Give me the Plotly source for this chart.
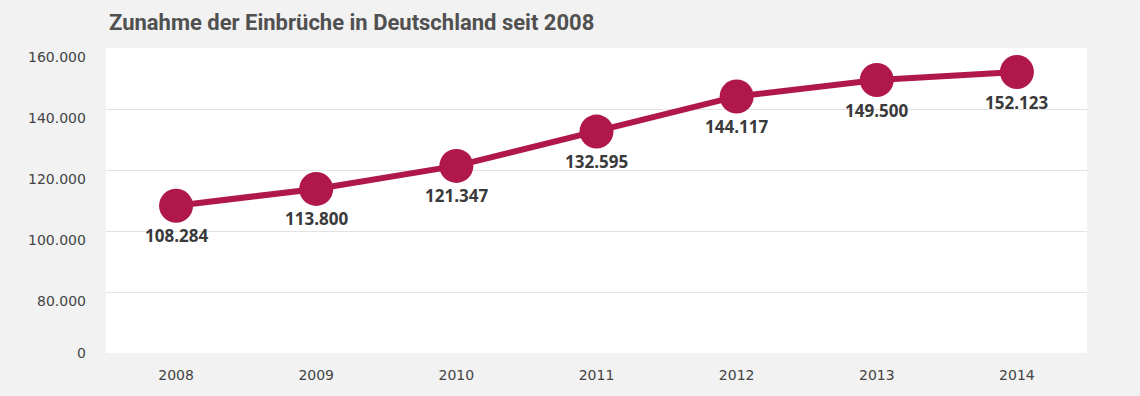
import plotly.graph_objects as go

years = ["2008", "2009", "2010", "2011", "2012", "2013", "2014"]
burglaries = [108284, 113800, 121347, 132595, 144117, 149500, 152123]
value_labels = ["108.284", "113.800", "121.347", "132.595", "144.117", "149.500", "152.123"]
y_tick_vals = [60000, 80000, 100000, 120000, 140000, 160000]
y_tick_text = ["0", "80.000", "100.000", "120.000", "140.000", "160.000"]
title_text = "Zunahme der Einbrüche in Deutschland seit 2008"

RED = "#b0174a"
TXT = "#3a3a3a"

fig = go.Figure()
fig.add_trace(go.Scatter(
    x=years, y=burglaries, mode="lines+markers",
    line=dict(color=RED, width=6),
    marker=dict(color=RED, size=34),
    hoverinfo="skip", showlegend=False,
))

annotations = []
for i, (v, lab) in enumerate(zip(burglaries, value_labels)):
    annotations.append(dict(
        x=i, y=v, xref="x", yref="y", text="<b>" + lab + "</b>", showarrow=False,
        yshift=-30, font=dict(family="Open Sans", size=17, color=TXT),
        xanchor="center", yanchor="middle",
    ))
for tv, tt in zip(y_tick_vals, y_tick_text):
    annotations.append(dict(
        x=0, y=tv, xref="paper", yref="y", text=tt, showarrow=False,
        xanchor="right", yanchor="middle", xshift=-18,
        yshift=0 if tv == y_tick_vals[0] else -9,
        font=dict(family="DejaVu Sans", size=14, color="#444444"),
    ))
annotations.append(dict(
    x=0, y=1, xref="paper", yref="paper", text="<b>" + title_text + "</b>",
    showarrow=False, xanchor="left", yanchor="middle", xshift=1, yshift=26,
    font=dict(family="Roboto", size=22, color="#505050"),
))

fig.update_layout(
    width=1140, height=396,
    margin=dict(l=106, r=53, t=48, b=43),
    paper_bgcolor="#f2f2f2", plot_bgcolor="#ffffff",
    annotations=annotations,
    xaxis=dict(
        type="category", range=[-0.5, 6.5], showgrid=False, zeroline=False,
        showline=False, ticks="", ticklabelstandoff=12,
        tickfont=dict(family="DejaVu Sans", size=14, color="#444444"),
    ),
    yaxis=dict(
        range=[60000, 160000], tickvals=y_tick_vals, showticklabels=False,
        showgrid=True, gridcolor="#e3e3e3", gridwidth=1, zeroline=False,
        showline=False, ticks="",
    ),
)

fig.write_html("out.html", config={"displayModeBar": False},
               post_script="document.body.style.margin='0';")
